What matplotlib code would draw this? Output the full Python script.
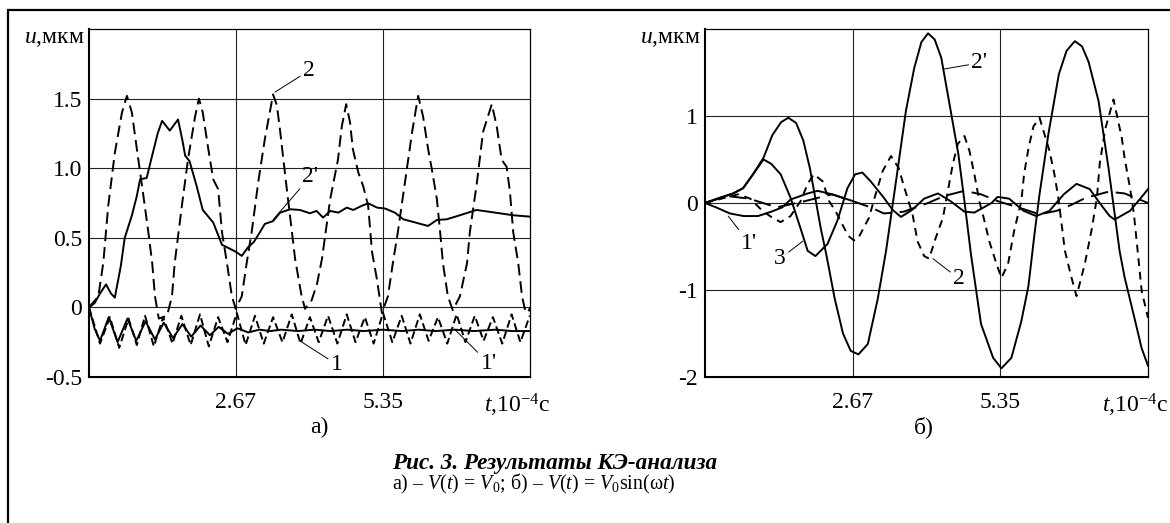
import matplotlib
matplotlib.use("Agg")
import matplotlib.pyplot as plt
from matplotlib.patches import Rectangle

plt.rcParams['font.family'] = ['Liberation Serif', 'DejaVu Serif']
plt.rcParams['mathtext.fontset'] = 'custom'
plt.rcParams['mathtext.rm'] = 'Liberation Serif'
plt.rcParams['mathtext.it'] = 'Liberation Serif:italic'
plt.rcParams['mathtext.bf'] = 'Liberation Serif:bold'

# ---- panel a): V(t) = V0 ----
# curve 2 (dashed)
ta_2 = [0, 0.17, 0.26, 0.35, 0.47, 0.60, 0.69, 0.78, 0.87, 0.98,
        1.08, 1.15, 1.20, 1.27, 1.42, 1.51, 1.56, 1.69, 1.80, 1.93,
        2.00, 2.07, 2.17, 2.26, 2.35, 2.42, 2.51, 2.60, 2.67, 2.78,
        2.87, 2.96, 3.08, 3.20, 3.35, 3.42, 3.48, 3.57, 3.66, 3.75,
        3.86, 3.93, 4.05, 4.15, 4.24, 4.39, 4.53, 4.60, 4.68, 4.75,
        4.80, 4.90, 4.99, 5.08, 5.15, 5.24, 5.33, 5.44, 5.53, 5.62,
        5.75, 5.88, 5.99, 6.08, 6.17, 6.24, 6.33, 6.39, 6.44, 6.53,
        6.62, 6.75, 6.88, 6.93, 7.06, 7.17, 7.33, 7.42, 7.51, 7.60,
        7.66, 7.72, 7.81, 7.88, 7.93, 7.99, 8.025]
ua_2 = [0, 0.08, 0.32, 0.73, 1.11, 1.40, 1.52, 1.40, 1.14, 0.83,
        0.54, 0.32, 0.08, -0.08, -0.06, 0.08, 0.32, 0.73, 1.06, 1.37,
        1.50, 1.40, 1.14, 0.92, 0.85, 0.54, 0.32, 0.08, -0.01, 0.08,
        0.32, 0.54, 0.90, 1.21, 1.53, 1.45, 1.26, 0.95, 0.65, 0.35,
        0.10, -0.01, 0.05, 0.17, 0.35, 0.78, 1.06, 1.30, 1.46, 1.33,
        1.14, 0.97, 0.87, 0.73, 0.40, 0.20, -0.04, 0.08, 0.32, 0.54,
        0.90, 1.26, 1.52, 1.37, 1.14, 0.99, 0.78, 0.54, 0.32, 0.08,
        -0.02, 0.08, 0.32, 0.54, 0.90, 1.26, 1.46, 1.30, 1.06, 1.01,
        0.83, 0.54, 0.32, 0.08, -0.01, -0.04, 0.00]

# curve 2' (solid)
ta_2p = [0, 0.1, 0.2, 0.31, 0.40, 0.47, 0.58, 0.65, 0.78, 0.87,
         0.93, 1.05, 1.13, 1.25, 1.33, 1.47, 1.62, 1.70, 1.75, 1.83,
         1.96, 2.07, 2.26, 2.42, 2.57, 2.67, 2.78, 2.89, 3.0, 3.11,
         3.20, 3.35, 3.475, 3.66, 3.84, 4.02, 4.14, 4.26, 4.39, 4.54,
         4.69, 4.81, 4.96, 5.08, 5.24, 5.39, 5.57, 5.72, 5.90, 6.17,
         6.33, 6.51, 6.75, 7.05, 7.30, 7.72, 8.025]
ua_2p = [0, 0.03, 0.10, 0.165, 0.10, 0.07, 0.30, 0.50, 0.66, 0.80,
         0.92, 0.93, 1.06, 1.25, 1.34, 1.27, 1.35, 1.20, 1.09, 1.05,
         0.87, 0.70, 0.61, 0.45, 0.42, 0.40, 0.37, 0.43, 0.47, 0.54,
         0.60, 0.62, 0.68, 0.705, 0.70, 0.676, 0.693, 0.645, 0.693, 0.681,
         0.717, 0.70, 0.729, 0.748, 0.717, 0.71, 0.68, 0.633, 0.614, 0.585,
         0.628, 0.633, 0.662, 0.70, 0.686, 0.662, 0.652]

# curve 1 (dashed, small)
ta_1 = [0, 0.2, 0.38, 0.55, 0.72, 0.87, 1.02, 1.18, 1.35, 1.52,
        1.68, 1.85, 2.02, 2.18, 2.35, 2.52, 2.69, 2.85, 3.02, 3.18,
        3.35, 3.52, 3.69, 3.85, 4.02, 4.18, 4.35, 4.52, 4.69, 4.85,
        5.02, 5.18, 5.35, 5.52, 5.69, 5.85, 6.02, 6.18, 6.35, 6.52,
        6.69, 6.85, 7.02, 7.18, 7.35, 7.52, 7.69, 7.85, 8.02]
ua_1 = [0, -0.26, -0.07, -0.29, -0.08, -0.27, -0.06, -0.28, -0.07, -0.26,
        -0.06, -0.27, -0.05, -0.28, -0.07, -0.25, -0.04, -0.27, -0.06, -0.26,
        -0.07, -0.25, -0.05, -0.26, -0.07, -0.25, -0.06, -0.26, -0.05, -0.25,
        -0.07, -0.26, -0.04, -0.25, -0.06, -0.26, -0.05, -0.24, -0.07, -0.26,
        -0.05, -0.25, -0.06, -0.24, -0.07, -0.26, -0.05, -0.25, -0.06]

# curve 1' (solid, small)
ta_1p = [0, 0.1, 0.2, 0.36, 0.52, 0.7, 0.86, 1.03, 1.2, 1.36,
         1.53, 1.7, 1.86, 2.03, 2.2, 2.36, 2.53, 2.7, 2.9, 3.1,
         3.3, 3.5, 3.8, 4.1, 4.4, 4.7, 5.0, 5.35, 5.7, 6.0,
         6.3, 6.66, 7.0, 7.4, 7.7, 8.025]
ua_1p = [0, -0.15, -0.24, -0.07, -0.25, -0.08, -0.24, -0.10, -0.23, -0.11,
         -0.22, -0.12, -0.21, -0.13, -0.20, -0.14, -0.19, -0.15, -0.18, -0.16,
         -0.17, -0.16, -0.17, -0.16, -0.17, -0.16, -0.17, -0.16, -0.17, -0.16,
         -0.17, -0.16, -0.17, -0.16, -0.17, -0.17]

# ---- panel б): V(t) = V0 sin(wt) ----
# curve 2' (solid, large)
tb_2p = [0, 0.27, 0.51, 0.69, 0.87, 1.06, 1.22, 1.38, 1.51, 1.65,
         1.78, 1.90, 2.00, 2.10, 2.20, 2.35, 2.50, 2.64, 2.78, 2.95,
         3.13, 3.28, 3.46, 3.64, 3.79, 3.92, 4.04, 4.16, 4.28, 4.42,
         4.59, 4.70, 4.82, 5.00, 5.22, 5.37, 5.55, 5.73, 5.86, 5.97,
         6.06, 6.22, 6.41, 6.55, 6.70, 6.83, 6.95, 7.13, 7.31, 7.42,
         7.51, 7.60, 7.79, 7.91, 8.025]
ub_2p = [0, 0.06, 0.11, 0.17, 0.33, 0.52, 0.78, 0.93, 0.98, 0.92,
         0.72, 0.40, 0.05, -0.30, -0.60, -1.10, -1.50, -1.70, -1.74, -1.62,
         -1.10, -0.55, 0.25, 1.06, 1.55, 1.85, 1.95, 1.88, 1.67, 1.17,
         0.56, 0.02, -0.60, -1.39, -1.78, -1.90, -1.78, -1.36, -0.95, -0.35,
         0.10, 0.79, 1.48, 1.75, 1.86, 1.80, 1.62, 1.17, 0.40, -0.12,
         -0.55, -0.85, -1.35, -1.67, -1.87]

# curve 2 (short dashes)
tb_2 = [0, 0.3, 0.6, 0.82, 1.04, 1.2, 1.37, 1.55, 1.73, 1.86,
        1.97, 2.13, 2.25, 2.37, 2.49, 2.60, 2.70, 2.78, 2.97, 3.09,
        3.22, 3.37, 3.51, 3.60, 3.76, 3.85, 3.97, 4.06, 4.18, 4.31,
        4.40, 4.49, 4.58, 4.70, 4.79, 4.88, 4.97, 5.06, 5.15, 5.28,
        5.37, 5.49, 5.60, 5.73, 5.78, 5.86, 5.95, 6.06, 6.24, 6.33,
        6.40, 6.46, 6.52, 6.64, 6.73, 6.88, 7.00, 7.10, 7.15, 7.25,
        7.40, 7.55, 7.60, 7.70, 7.77, 7.82, 7.91, 8.025]
ub_2 = [0, 0.05, 0.10, 0.05, -0.09, -0.16, -0.22, -0.15, 0.02, 0.22,
        0.33, 0.25, 0.02, -0.10, -0.25, -0.38, -0.43, -0.40, -0.17, 0.10,
        0.37, 0.54, 0.40, 0.20, -0.13, -0.44, -0.61, -0.64, -0.40, -0.17,
        0.14, 0.45, 0.68, 0.77, 0.60, 0.33, 0.02, -0.20, -0.44, -0.70,
        -0.86, -0.70, -0.32, 0.02, 0.33, 0.63, 0.88, 0.98, 0.60, 0.33,
        0.06, -0.24, -0.55, -0.86, -1.07, -0.70, -0.32, 0.06, 0.45, 0.85,
        1.19, 0.75, 0.52, 0.17, -0.13, -0.44, -1.01, -1.32]

# curve 3 (solid)
tb_3 = [0, 0.27, 0.51, 0.69, 0.87, 1.06, 1.2, 1.37, 1.55, 1.73,
        1.86, 2.0, 2.22, 2.40, 2.58, 2.72, 2.85, 3.0, 3.24, 3.40,
        3.55, 3.75, 3.97, 4.22, 4.45, 4.70, 4.88, 5.05, 5.19, 5.30,
        5.51, 5.77, 6.00, 6.24, 6.50, 6.73, 6.97, 7.15, 7.33, 7.42,
        7.70, 7.95, 8.025]
ub_3 = [0, 0.06, 0.11, 0.17, 0.33, 0.50, 0.45, 0.33, 0.06, -0.29,
        -0.55, -0.61, -0.47, -0.20, 0.17, 0.33, 0.35, 0.25, 0.06, -0.08,
        -0.16, -0.08, 0.05, 0.11, 0.02, -0.10, -0.11, -0.05, 0.0, 0.07,
        0.05, -0.09, -0.15, -0.09, 0.10, 0.22, 0.16, 0.0, -0.15, -0.19,
        -0.09, 0.10, 0.16]

# curve 1' (solid, small)
tb_1p = [0, 0.2, 0.45, 0.7, 0.96, 1.2, 1.4, 1.55, 1.86, 2.04, 2.3, 2.64]
ub_1p = [0, -0.05, -0.12, -0.15, -0.15, -0.10, -0.05, 0.04, 0.11, 0.14, 0.10, 0.03]

# curve 1 (long dashes, small)
tb_1 = [0, 0.4, 0.8, 1.3, 1.8, 2.3, 2.64, 3.0, 3.24, 3.6,
        4.04, 4.33, 4.7, 5.0, 5.31, 5.77, 6.06, 6.37, 6.64, 6.9,
        7.31, 7.6, 8.025]
ub_1 = [0, 0.08, 0.05, -0.05, 0.02, 0.10, 0.03, -0.05, -0.12, -0.10,
        0.0, 0.08, 0.14, 0.10, 0.02, -0.07, -0.13, -0.09, -0.02, 0.06,
        0.13, 0.11, 0.0]

x_ticks = [2.675, 5.35]
x_ticklabels = ['2.67', '5.35']
ya_ticks = [-0.5, 0, 0.5, 1.0, 1.5]
ya_ticklabels = ['-0.5', '0', '0.5', '1.0', '1.5']
yb_ticks = [-2, -1, 0, 1]
yb_ticklabels = ['-2', '-1', '0', '1']

W, H = 1170, 523
fig = plt.figure(figsize=(W / 100, H / 100), dpi=100)

# outer frame of the figure page
fig.add_artist(Rectangle((8 / W, -0.5), 2, 1.5 - 10 / H, transform=fig.transFigure,
                         fill=False, lw=1.6, ec='black'))

axa = fig.add_axes([89 / W, 1 - 377 / H, 441 / W, 348 / H])
axb = fig.add_axes([705 / W, 1 - 377 / H, 443 / W, 348 / H])

FS = 17
lw = 1.4


def setup(ax, ylim, yticks, ylabels):
    ax.set_xlim(0, 8.025)
    ax.set_ylim(*ylim)
    ax.set_xticks(x_ticks)
    ax.set_xticklabels(x_ticklabels)
    ax.set_yticks(yticks)
    ax.set_yticklabels(ylabels)
    ax.grid(True, color='#222222', lw=0.8)
    ax.set_axisbelow(True)
    ax.tick_params(length=0, labelsize=FS)
    ax.tick_params(axis='x', pad=11)
    ax.tick_params(axis='y', pad=5)
    for s in ['left', 'bottom']:
        ax.spines[s].set_linewidth(1.5)
    for s in ['top', 'right']:
        ax.spines[s].set_linewidth(0.9)
    ax.annotate(r'$u$,мкм', xy=(0, 1), xycoords='axes fraction', xytext=(-3, 1),
                textcoords='offset points', ha='right', va='top', fontsize=FS)
    ax.annotate(r'$t$,10$^{-4}$с', xy=(0.97, 0), xycoords='axes fraction',
                xytext=(0, -11), textcoords='offset points', ha='center', va='top',
                fontsize=FS)


def mark(ax, text, tip, pos):
    ax.annotate(text, xy=tip, xytext=pos, ha='center', va='center', fontsize=FS,
                arrowprops=dict(arrowstyle='-', lw=0.7, color='black',
                                shrinkA=0, shrinkB=0))


setup(axa, (-0.5, 2.0), ya_ticks, ya_ticklabels)
setup(axb, (-2.0, 2.0), yb_ticks, yb_ticklabels)

axa.plot(ta_2, ua_2, color='black', lw=lw, dashes=(6, 3))
axa.plot(ta_2p, ua_2p, color='black', lw=lw)
axa.plot(ta_1, ua_1, color='black', lw=lw, dashes=(4, 2))
axa.plot(ta_1p, ua_1p, color='black', lw=lw)

axb.plot(tb_2p, ub_2p, color='black', lw=lw)
axb.plot(tb_2, ub_2, color='black', lw=lw, dashes=(4, 3))
axb.plot(tb_3, ub_3, color='black', lw=lw)
axb.plot(tb_1p, ub_1p, color='black', lw=lw)
axb.plot(tb_1, ub_1, color='black', lw=lw, dashes=(9, 4))

mark(axa, '2', (3.385, 1.547), (4.0, 1.70))
mark(axa, "2'", (3.35, 0.63), (4.03, 0.94))
mark(axa, '1', (3.876, -0.25), (4.51, -0.41))
mark(axa, "1'", (6.66, -0.16), (7.27, -0.40))

mark(axb, "1'", (0.42, -0.15), (0.80, -0.46))
mark(axb, '3', (1.77, -0.44), (1.36, -0.64))
mark(axb, '2', (4.13, -0.64), (4.60, -0.87))
mark(axb, "2'", (4.33, 1.54), (4.97, 1.61))

fig.text(319 / W, 1 - 427 / H, 'а)', ha='center', va='center', fontsize=FS)
fig.text(924 / W, 1 - 427 / H, 'б)', ha='center', va='center', fontsize=FS)

fig.text(392 / W, 1 - 463 / H, 'Рис. 3. Результаты КЭ-анализа', ha='left', va='center',
         fontsize=16.7, fontweight='bold', style='italic')
fig.text(392 / W, 1 - 484 / H,
         r'а) – $V$($t$) = $V_0$; б) – $V$($t$) = $V_0$sin(ω$t$)',
         ha='left', va='center', fontsize=14.4)

fig.savefig('out.png', dpi=100)
